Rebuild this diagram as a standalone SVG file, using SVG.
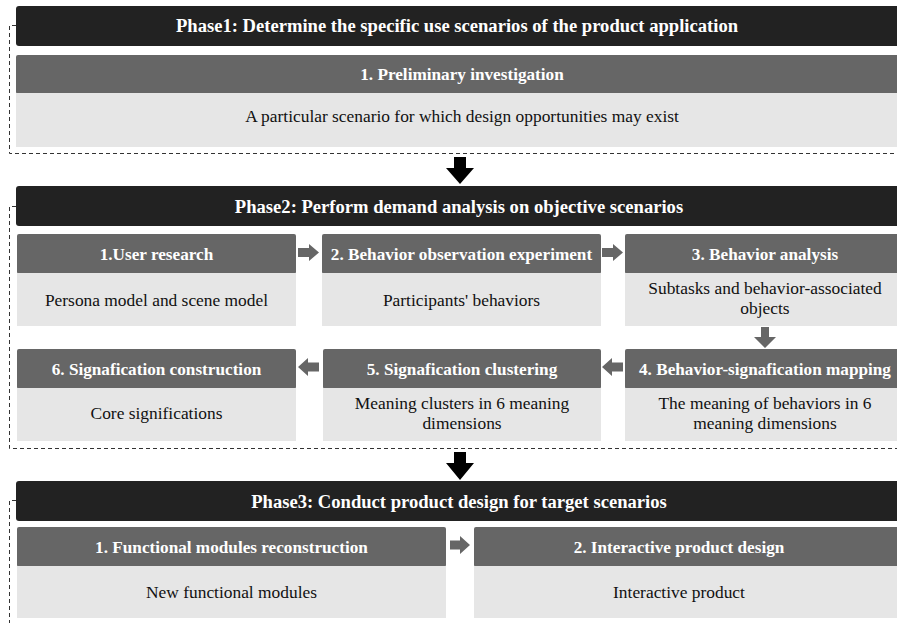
<svg xmlns="http://www.w3.org/2000/svg" width="897" height="623" viewBox="0 0 897 623">
<style>
.ph{fill:#222222}
.sh{fill:#666666}
.bd{fill:#e6e6e6}
.pt{font-family:"Liberation Serif","Times New Roman",serif;font-weight:bold;font-size:18.6px;fill:#ffffff;text-anchor:middle}
.st{font-family:"Liberation Serif","Times New Roman",serif;font-weight:bold;font-size:17.2px;fill:#ffffff;text-anchor:middle}
.bt{font-family:"Liberation Serif","Times New Roman",serif;font-size:17.4px;fill:#111111;text-anchor:middle}
.dash{fill:none;stroke:#333333;stroke-width:1;stroke-dasharray:4 3}
.ga{fill:#666666}
.ba{fill:#000000}
</style>
<rect width="897" height="623" fill="#ffffff"/>

<!-- Phase 1 -->
<g id="phase1">
<path class="dash" d="M16,25.5 H9.5 V153.5 H897"/>
<rect class="ph" x="16" y="6" width="900" height="40" rx="3"/>
<text class="pt" x="457" y="31.5">Phase1: Determine the specific use scenarios of the product application</text>
</g>
<g id="p1-investigation">
<rect class="sh" x="16" y="55" width="892" height="39" rx="2"/>
<rect class="bd" x="16" y="93" width="892" height="54"/>
<text class="st" x="462" y="80">1. Preliminary investigation</text>
<text class="bt" x="462" y="121.5">A particular scenario for which design opportunities may exist</text>
</g>

<!-- Phase 2 -->
<g id="phase2">
<path class="dash" d="M16,206.5 H9.5 V448.5 H897"/>
<rect class="ph" x="16" y="186" width="900" height="40" rx="3"/>
<text class="pt" x="459" y="212.5">Phase2: Perform demand analysis on objective scenarios</text>
</g>
<g id="p2-user-research">
<rect class="sh" x="17" y="234" width="279" height="40" rx="2"/>
<rect class="bd" x="17" y="273" width="279" height="53"/>
<text class="st" x="156.5" y="260">1.User research</text>
<text class="bt" x="156.5" y="306">Persona model and scene model</text>
</g>
<g id="p2-observation">
<rect class="sh" x="322" y="234" width="279" height="40" rx="2"/>
<rect class="bd" x="322" y="273" width="279" height="53"/>
<text class="st" x="461.5" y="260">2. Behavior observation experiment</text>
<text class="bt" x="461.5" y="306">Participants' behaviors</text>
</g>
<g id="p2-analysis">
<rect class="sh" x="625" y="234" width="280" height="40" rx="2"/>
<rect class="bd" x="625" y="273" width="280" height="53"/>
<text class="st" x="765" y="260">3. Behavior analysis</text>
<text class="bt" x="765" y="294">Subtasks and behavior-associated</text>
<text class="bt" x="765" y="314">objects</text>
</g>
<g id="p2-mapping">
<rect class="sh" x="625" y="349" width="280" height="40" rx="2"/>
<rect class="bd" x="625" y="388" width="280" height="53"/>
<text class="st" x="765" y="375">4. Behavior-signafication mapping</text>
<text class="bt" x="765" y="409">The meaning of behaviors in 6</text>
<text class="bt" x="765" y="429">meaning dimensions</text>
</g>
<g id="p2-clustering">
<rect class="sh" x="323" y="349" width="278" height="40" rx="2"/>
<rect class="bd" x="323" y="388" width="278" height="53"/>
<text class="st" x="462" y="375">5. Signafication clustering</text>
<text class="bt" x="462" y="409">Meaning clusters in 6 meaning</text>
<text class="bt" x="462" y="429">dimensions</text>
</g>
<g id="p2-construction">
<rect class="sh" x="17" y="349" width="279" height="40" rx="2"/>
<rect class="bd" x="17" y="388" width="279" height="53"/>
<text class="st" x="156.5" y="375">6. Signafication construction</text>
<text class="bt" x="156.5" y="419">Core significations</text>
</g>

<!-- Phase 3 -->
<g id="phase3">
<path class="dash" d="M16,500.5 H9.5 V623"/>
<rect class="ph" x="16" y="481" width="900" height="40" rx="3"/>
<text class="pt" x="459" y="507.5">Phase3: Conduct product design for target scenarios</text>
</g>
<g id="p3-modules">
<rect class="sh" x="17" y="527" width="429" height="40" rx="2"/>
<rect class="bd" x="17" y="566" width="429" height="52"/>
<text class="st" x="231.5" y="553">1. Functional modules reconstruction</text>
<text class="bt" x="231.5" y="598">New functional modules</text>
</g>
<g id="p3-product">
<rect class="sh" x="474" y="527" width="431" height="40" rx="2"/>
<rect class="bd" x="474" y="566" width="431" height="52"/>
<text class="st" x="679" y="553">2. Interactive product design</text>
<text class="bt" x="679" y="598">Interactive product</text>
</g>

<!-- Connectors -->
<g id="connectors">
<polygon class="ba" points="454,157 466,157 466,168 474,168 460,184 446,168 454,168"/>
<polygon class="ba" points="454,452 466,452 466,463 474,463 460,480 446,463 454,463"/>
<polygon class="ga" points="298,248 309,248 309,244 319,252.5 309,261 309,257 298,257"/>
<polygon class="ga" points="602,248 613,248 613,244 623,252.5 613,261 613,257 602,257"/>
<polygon class="ga" points="761,327 769,327 769,337 776,337 765,348 754,337 761,337"/>
<polygon class="ga" points="623,362.5 612,362.5 612,358 602,367 612,376 612,371.5 623,371.5"/>
<polygon class="ga" points="319,362.5 308,362.5 308,358 298,367 308,376 308,371.5 319,371.5"/>
<polygon class="ga" points="450,540.5 460,540.5 460,536 470,545 460,554 460,549.5 450,549.5"/>
</g>
</svg>
